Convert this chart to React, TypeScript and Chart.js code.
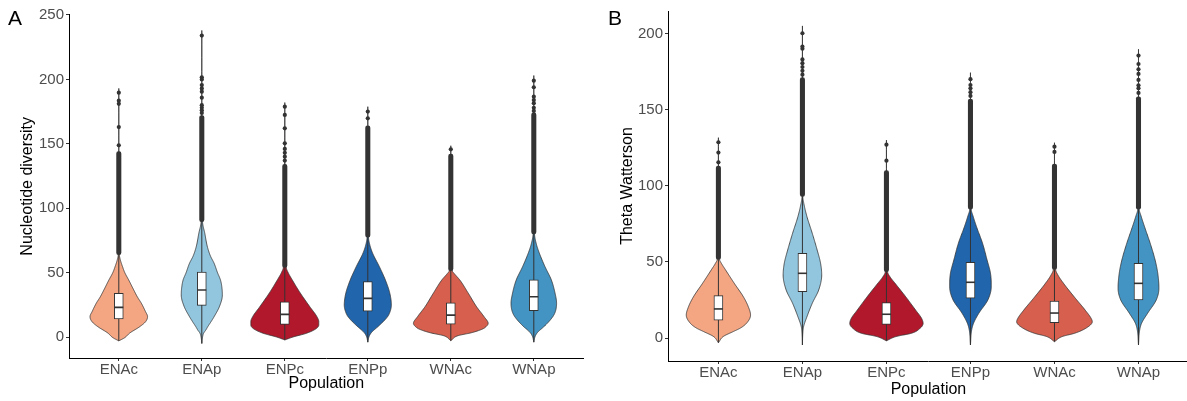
import React, { useEffect, useRef } from "react";
import { Chart, registerables } from "chart.js";

Chart.register(...registerables);

const FONT = '"Liberation Sans", Arial, Helvetica, sans-serif';

const populations = ["ENAc", "ENAp", "ENPc", "ENPp", "WNAc", "WNAp"];
const populationColors = ["#F4A582", "#92C5DE", "#B2182B", "#2166AC", "#D6604D", "#4393C3"];

// ---- Panel A: nucleotide diversity ----
const piTicks = [0, 50, 100, 150, 200, 250];
const piMin = [-3, -5, -2.3, -4, -2.9, -4];
const piMax = [193, 238, 182, 178.8, 148.5, 203];
const piQ1 = [14, 24.5, 9.8, 20, 10, 20.4];
const piMedian = [23, 36.5, 17.6, 30, 17, 31.3];
const piQ3 = [34, 50.5, 27.4, 43, 26.5, 44.3];
const piUpperWhisker = [64, 89.5, 54, 77.5, 51.5, 80];
const piDenseOutlierTop = [144, 172, 134, 164, 142, 174];
const piSparseOutliers = [
  [148.8, 163, 181, 183.5, 189.7],
  [174, 176, 178, 180, 185.8, 190.5, 193, 195.6, 200, 201.6, 234],
  [137, 140, 143, 146, 150.4, 162, 172.4, 178.8],
  [169.8, 175],
  [145.7],
  [175.5, 178, 181.5, 184, 186.6, 193.9, 199],
];
// kernel density profiles: [value, density relative to the widest violin]
const piDensity = [
  [[-0.5, 0.16], [3, 0.29], [8, 0.56], [12, 0.72], [15.8, 0.77], [20, 0.71], [26.4, 0.6], [31, 0.5], [36.5, 0.4], [44, 0.27], [50, 0.16], [54.6, 0.1], [60, 0.04], [64, 0.015]],
  [[0, 0.02], [3, 0.05], [5.5, 0.11], [8, 0.16], [12, 0.25], [15.8, 0.33], [23.5, 0.47], [32.6, 0.55], [38, 0.54], [44.3, 0.5], [50, 0.42], [57.2, 0.33], [63, 0.23], [70, 0.15], [80.5, 0.08], [89.5, 0.02]],
  [[0, 0.22], [2.9, 0.58], [6.7, 0.85], [9.5, 0.91], [11.9, 0.91], [15.8, 0.86], [23.5, 0.67], [33.9, 0.42], [44.3, 0.2], [50, 0.09], [54, 0.04]],
  [[0, 0.03], [2.8, 0.08], [5, 0.15], [8, 0.27], [15.8, 0.53], [20, 0.6], [24.8, 0.63], [33.9, 0.59], [44.3, 0.47], [54.6, 0.31], [65, 0.13], [72, 0.05], [77.5, 0.02]],
  [[1, 0.19], [3.3, 0.55], [6.2, 0.85], [8.5, 0.96], [10.6, 1.0], [15.8, 0.89], [23.5, 0.69], [33.9, 0.47], [44.3, 0.24], [49, 0.1], [51.5, 0.04]],
  [[0, 0.03], [2.8, 0.08], [5, 0.15], [8, 0.27], [15.8, 0.51], [20, 0.58], [26.2, 0.61], [33.9, 0.57], [44.3, 0.47], [54.6, 0.3], [65, 0.15], [72, 0.07], [80, 0.02]],
];

// ---- Panel B: Watterson's theta ----
const thetaTicks = [0, 50, 100, 150, 200];
const thetaMin = [-3.1, -4.6, -1.8, -4.6, -2.4, -4.6];
const thetaMax = [131.6, 205, 130, 174.3, 128.3, 189.7];
const thetaQ1 = [11.8, 30.4, 9, 26.1, 10.1, 25];
const thetaMedian = [19.1, 42.5, 15.6, 36.6, 16.4, 35.9];
const thetaQ3 = [27.8, 55.6, 23.2, 49.7, 24.3, 49.1];
const thetaUpperWhisker = [51.7, 93, 43.6, 84.6, 45.1, 84.6];
const thetaDenseOutlierTop = [113, 171, 110, 157, 114.3, 158.5];
const thetaSparseOutliers = [
  [115.4, 121.8, 128.6],
  [173, 175.5, 178, 180.5, 183, 190, 191.4, 200.2],
  [116.5, 127],
  [159, 161.5, 164, 166.2, 170],
  [122.2, 125.7],
  [161, 164, 166, 169.5, 173.5, 176.5, 180, 185.5],
];
const thetaDensity = [
  [[1, 0.13], [4.2, 0.39], [6.5, 0.58], [9.6, 0.74], [15.1, 0.85], [20.6, 0.79], [27.1, 0.66], [35.9, 0.42], [44.7, 0.19], [49, 0.08], [51.7, 0.03]],
  [[3, 0.01], [7.4, 0.03], [14, 0.12], [22.8, 0.26], [31.5, 0.43], [41.4, 0.51], [49.1, 0.48], [57.8, 0.39], [68.8, 0.26], [79.7, 0.12], [88, 0.04], [93, 0.01]],
  [[1, 0.26], [3.1, 0.66], [6.4, 0.89], [9.6, 0.97], [12.9, 0.93], [18.4, 0.77], [27.1, 0.51], [35.9, 0.23], [40, 0.1], [43.6, 0.03]],
  [[5, 0.03], [9.6, 0.08], [16.2, 0.22], [25, 0.46], [33.7, 0.55], [42.5, 0.53], [51.2, 0.44], [62.2, 0.32], [73.1, 0.16], [80, 0.07], [84.6, 0.02]],
  [[1, 0.21], [3.1, 0.53], [6.4, 0.83], [10.7, 1.0], [12.9, 0.97], [18.4, 0.81], [27.1, 0.52], [35.9, 0.24], [41, 0.1], [45.1, 0.03]],
  [[5, 0.03], [9.6, 0.08], [16.2, 0.24], [25, 0.47], [32.7, 0.54], [42.5, 0.51], [51.2, 0.44], [62.2, 0.31], [73.1, 0.16], [80, 0.07], [84.6, 0.02]],
];

// Widest violin spans 0.9 category units (half-width 0.45)
const VIOLIN_HALF = 0.45;
const BOX_WIDTH = 9;
const INK = "#333333";

type Panel = {
  yTitle: string;
  ticks: number[];
  yMin: number;
  yMax: number;
  min: number[];
  max: number[];
  q1: number[];
  median: number[];
  q3: number[];
  upperWhisker: number[];
  denseTop: number[];
  sparse: number[][];
  density: number[][][];
};

type Frame = {
  width: number;
  padTop: number;
  padRight: number;
  yAxisWidth: number;
  xAxisHeight: number;
  yTitlePad: number;
  xTitlePad: number;
  xMax: number;
};

const piPanel: Panel = {
  yTitle: "Nucleotide diversity",
  ticks: piTicks,
  yMin: -16.3,
  yMax: 250.3,
  min: piMin,
  max: piMax,
  q1: piQ1,
  median: piMedian,
  q3: piQ3,
  upperWhisker: piUpperWhisker,
  denseTop: piDenseOutlierTop,
  sparse: piSparseOutliers,
  density: piDensity,
};

const thetaPanel: Panel = {
  yTitle: "Theta Watterson",
  ticks: thetaTicks,
  yMin: -15.1,
  yMax: 214.8,
  min: thetaMin,
  max: thetaMax,
  q1: thetaQ1,
  median: thetaMedian,
  q3: thetaQ3,
  upperWhisker: thetaUpperWhisker,
  denseTop: thetaDenseOutlierTop,
  sparse: thetaSparseOutliers,
  density: thetaDensity,
};

// Fritsch–Carlson monotone cubic through the density profile, sampled finely
function monotoneCurve(pts: number[][], steps: number): number[][] {
  const n = pts.length;
  const xs = pts.map((p) => p[0]);
  const ys = pts.map((p) => p[1]);
  const d: number[] = [];
  const m: number[] = new Array(n).fill(0);
  for (let i = 0; i < n - 1; i++) d.push((ys[i + 1] - ys[i]) / (xs[i + 1] - xs[i]));
  m[0] = d[0];
  m[n - 1] = d[n - 2];
  for (let i = 1; i < n - 1; i++) m[i] = d[i - 1] * d[i] <= 0 ? 0 : (d[i - 1] + d[i]) / 2;
  for (let i = 0; i < n - 1; i++) {
    if (d[i] === 0) {
      m[i] = 0;
      m[i + 1] = 0;
      continue;
    }
    const a = m[i] / d[i];
    const b = m[i + 1] / d[i];
    const s = a * a + b * b;
    if (s > 9) {
      const t = 3 / Math.sqrt(s);
      m[i] = t * a * d[i];
      m[i + 1] = t * b * d[i];
    }
  }
  const out: number[][] = [];
  for (let i = 0; i < n - 1; i++) {
    const h = xs[i + 1] - xs[i];
    for (let k = 0; k < steps; k++) {
      const t = k / steps;
      const t2 = t * t;
      const t3 = t2 * t;
      const v =
        (2 * t3 - 3 * t2 + 1) * ys[i] +
        (t3 - 2 * t2 + t) * h * m[i] +
        (-2 * t3 + 3 * t2) * ys[i + 1] +
        (t3 - t2) * h * m[i + 1];
      out.push([xs[i] + t * h, Math.max(0, v)]);
    }
  }
  out.push(pts[n - 1]);
  return out;
}

function violinPlugin(panel: Panel) {
  return {
    id: "violins",
    beforeDatasetsDraw(chart: any) {
      const { ctx, chartArea } = chart;
      const xs = chart.scales.x;
      const ys = chart.scales.y;
      ctx.save();
      ctx.beginPath();
      ctx.rect(chartArea.left, chartArea.top, chartArea.right - chartArea.left, chartArea.bottom - chartArea.top);
      ctx.clip();
      panel.density.forEach((profile, i) => {
        const cx = i + 1;
        const curve = monotoneCurve([[panel.min[i], 0], ...profile, [panel.max[i], 0]], 14);
        ctx.beginPath();
        curve.forEach(([v, dens], k) => {
          const px = xs.getPixelForValue(cx - dens * VIOLIN_HALF);
          const py = ys.getPixelForValue(v);
          if (k === 0) ctx.moveTo(px, py);
          else ctx.lineTo(px, py);
        });
        for (let k = curve.length - 1; k >= 0; k--) {
          const [v, dens] = curve[k];
          ctx.lineTo(xs.getPixelForValue(cx + dens * VIOLIN_HALF), ys.getPixelForValue(v));
        }
        ctx.closePath();
        ctx.fillStyle = populationColors[i];
        ctx.fill();
        ctx.strokeStyle = INK;
        ctx.lineWidth = 0.8;
        ctx.lineJoin = "round";
        ctx.stroke();

        // whiskers: lower extreme up to the upper whisker
        ctx.beginPath();
        const wx = xs.getPixelForValue(cx);
        ctx.moveTo(wx, ys.getPixelForValue(panel.min[i]));
        ctx.lineTo(wx, ys.getPixelForValue(panel.upperWhisker[i]));
        ctx.lineWidth = 1;
        ctx.strokeStyle = INK;
        ctx.stroke();
      });
      ctx.restore();
    },
  };
}

function buildConfig(panel: Panel, frame: Frame): any {
  const idx = populations.map((_, i) => i + 1);
  const sparsePoints: { x: number; y: number }[] = [];
  panel.sparse.forEach((vals, i) => vals.forEach((v) => sparsePoints.push({ x: i + 1, y: v })));

  return {
    type: "bar",
    data: {
      datasets: [
        {
          type: "scatter",
          label: "median",
          data: idx.map((x, i) => ({ x, y: panel.median[i] })),
          pointStyle: "line",
          pointRadius: BOX_WIDTH / 2,
          pointBorderWidth: 1.6,
          borderColor: INK,
          backgroundColor: INK,
        },
        {
          type: "bar",
          label: "box",
          data: idx.map((x, i) => ({ x, y: [panel.q1[i], panel.q3[i]] })),
          backgroundColor: "#FFFFFF",
          borderColor: INK,
          borderWidth: 1,
          borderSkipped: false,
          barThickness: BOX_WIDTH,
          grouped: false,
        },
        {
          type: "scatter",
          label: "outliers",
          data: sparsePoints,
          pointRadius: 2.1,
          pointBorderWidth: 0,
          backgroundColor: INK,
          borderColor: INK,
        },
        {
          type: "bar",
          label: "outlier band",
          data: idx.map((x, i) => ({ x, y: [panel.upperWhisker[i], panel.denseTop[i]] })),
          backgroundColor: INK,
          borderWidth: 0,
          borderSkipped: false,
          borderRadius: 2.2,
          barThickness: 4.4,
          grouped: false,
        },
      ],
    },
    options: {
      responsive: false,
      animation: false,
      events: [],
      layout: { padding: { top: frame.padTop, right: frame.padRight, bottom: 0, left: 0 } },
      plugins: { legend: { display: false }, tooltip: { enabled: false } },
      scales: {
        x: {
          type: "linear",
          offset: false,
          min: 0.4,
          max: frame.xMax,
          afterBuildTicks: (s: any) => {
            s.ticks = idx.map((v) => ({ value: v }));
          },
          afterFit: (s: any) => {
            s.height = frame.xAxisHeight;
          },
          ticks: {
            callback: (_v: any, i: number) => populations[i],
            color: "#4D4D4D",
            font: { family: FONT, size: 15, lineHeight: 1 },
            padding: 1,
            maxRotation: 0,
            autoSkip: false,
          },
          grid: {
            display: true,
            offset: false,
            drawOnChartArea: false,
            drawTicks: true,
            tickLength: 3,
            color: INK,
          },
          border: { display: true, color: "#000000", width: 1 },
          title: {
            display: true,
            text: "Population",
            color: "#000000",
            font: { family: FONT, size: 16 },
            padding: { top: 0, bottom: frame.xTitlePad },
          },
        },
        y: {
          type: "linear",
          min: panel.yMin,
          max: panel.yMax,
          afterBuildTicks: (s: any) => {
            s.ticks = panel.ticks.map((v) => ({ value: v }));
          },
          afterFit: (s: any) => {
            s.width = frame.yAxisWidth;
          },
          ticks: {
            color: "#4D4D4D",
            font: { family: FONT, size: 15 },
            padding: 2,
          },
          grid: { display: true, drawOnChartArea: false, drawTicks: true, tickLength: 3, color: INK },
          border: { display: true, color: "#000000", width: 1 },
          title: {
            display: true,
            text: panel.yTitle,
            color: "#000000",
            font: { family: FONT, size: 16 },
            padding: { top: frame.yTitlePad, bottom: 0 },
          },
        },
      },
    },
    plugins: [violinPlugin(panel)],
  };
}

function ViolinPanel({ panel, frame, left }: { panel: Panel; frame: Frame; left: number }) {
  const ref = useRef<HTMLCanvasElement | null>(null);
  useEffect(() => {
    if (!ref.current) return;
    const chart = new Chart(ref.current, buildConfig(panel, frame));
    return () => chart.destroy();
  }, [panel, frame]);
  return (
    <div style={{ position: "absolute", left, top: 0, width: frame.width, height: 401 }}>
      <canvas ref={ref} width={frame.width} height={401} style={{ width: frame.width, height: 401, display: "block" }} />
    </div>
  );
}

const frameA: Frame = {
  width: 595,
  padTop: 14.6,
  padRight: 11.4,
  yAxisWidth: 69,
  xAxisHeight: 43,
  yTitlePad: 18.2,
  xTitlePad: 8,
  xMax: 6.6,
};

const frameB: Frame = {
  width: 600,
  padTop: 11,
  padRight: 4,
  yAxisWidth: 73,
  xAxisHeight: 40,
  yTitlePad: 22.6,
  xTitlePad: 2,
  xMax: 6.6,
};

const tagStyle: React.CSSProperties = {
  position: "absolute",
  top: 7,
  fontFamily: FONT,
  fontSize: 21,
  lineHeight: "21px",
  color: "#000",
};

export default function App() {
  return (
    <div
      style={{
        position: "fixed",
        left: 0,
        top: 0,
        width: 1187,
        height: 401,
        overflow: "hidden",
        background: "#FFFFFF",
      }}
    >
      <ViolinPanel panel={piPanel} frame={frameA} left={0} />
      <ViolinPanel panel={thetaPanel} frame={frameB} left={595} />
      <div style={{ ...tagStyle, left: 8 }}>A</div>
      <div style={{ ...tagStyle, left: 608 }}>B</div>
    </div>
  );
}
